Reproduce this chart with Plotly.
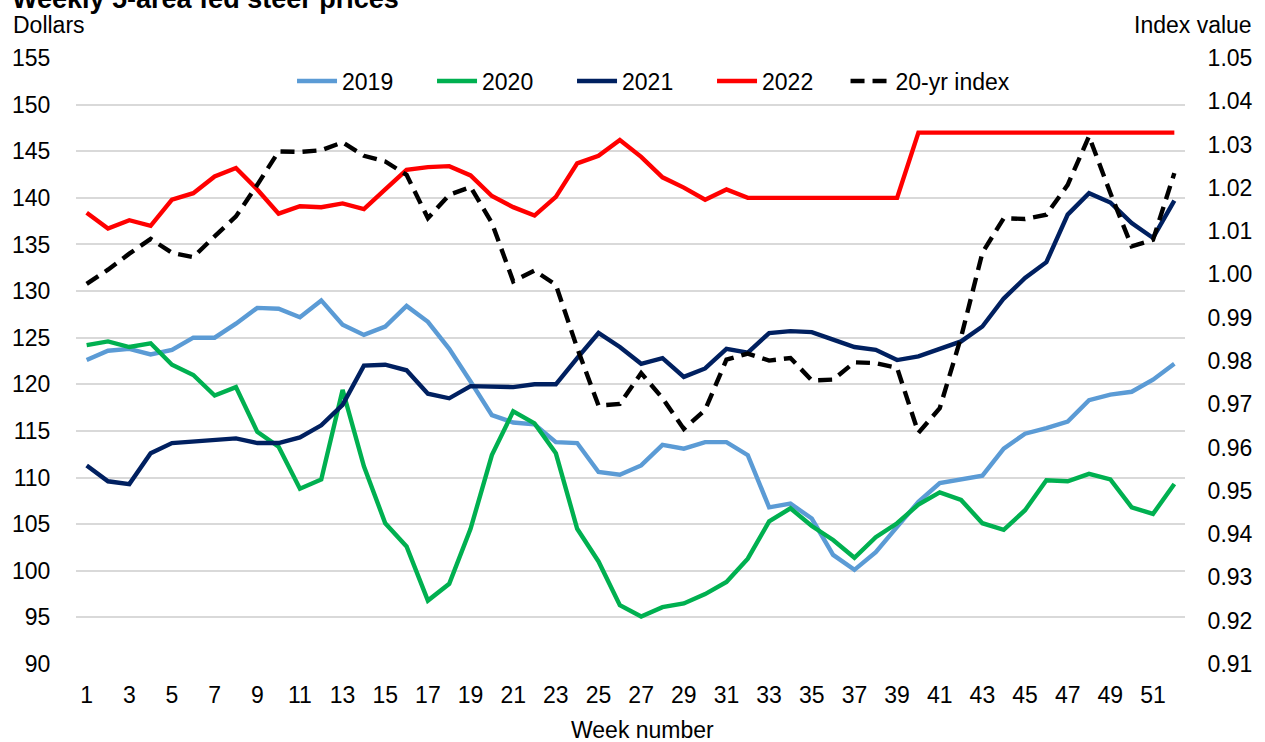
import plotly.graph_objects as go

weeks = list(range(1, 53))
tick_weeks = list(range(1, 52, 2))

p2019 = [122.6, 123.6, 123.8, 123.2, 123.7, 125.0, 125.0, 126.5, 128.2, 128.1,
         127.2, 129.0, 126.4, 125.3, 126.2, 128.4, 126.7, 123.8, 120.3, 116.7,
         115.9, 115.7, 113.8, 113.7, 110.6, 110.3, 111.3, 113.5, 113.1, 113.8,
         113.8, 112.4, 106.8, 107.2, 105.6, 101.7, 100.1, 102.0, 104.7, 107.4,
         109.4, 109.8, 110.2, 113.1, 114.7, 115.3, 116.0, 118.3, 118.9, 119.2,
         120.5, 122.2]
p2020 = [124.2, 124.6, 124.0, 124.4, 122.1, 121.0, 118.8, 119.7, 114.9, 113.3,
         108.8, 109.8, 119.4, 111.2, 105.1, 102.6, 96.8, 98.6, 104.5, 112.4,
         117.1, 115.8, 112.6, 104.5, 101.0, 96.3, 95.1, 96.1, 96.5, 97.5,
         98.8, 101.3, 105.3, 106.7, 104.8, 103.3, 101.4, 103.6, 105.1, 107.1,
         108.4, 107.6, 105.1, 104.4, 106.5, 109.7, 109.6, 110.4, 109.8, 106.8,
         106.1, 109.3]
p2021 = [111.3, 109.6, 109.3, 112.6, 113.7, 113.9, 114.1, 114.2, 113.7, 113.7,
         114.3, 115.6, 117.8, 122.0, 122.1, 121.5, 119.0, 118.5, 119.8, 119.7,
         119.7, 120.0, 120.0, 122.8, 125.5, 124.0, 122.2, 122.8, 120.8, 121.7,
         123.8, 123.4, 125.5, 125.7, 125.6, 124.8, 124.0, 123.7, 122.6, 123.0,
         123.8, 124.6, 126.2, 129.2, 131.4, 133.1, 138.2, 140.5, 139.5, 137.3,
         135.7, 139.7]
p2022 = [138.4, 136.7, 137.6, 137.0, 139.8, 140.5, 142.3, 143.2, 140.9, 138.3,
         139.1, 139.0, 139.4, 138.8, 140.9, 143.0, 143.3, 143.4, 142.4, 140.2,
         139.0, 138.1, 140.1, 143.7, 144.5, 146.2, 144.4, 142.2, 141.1, 139.8,
         140.9, 140.0, 140.0, 140.0, 140.0, 140.0, 140.0, 140.0, 140.0, 147.0,
         147.0, 147.0, 147.0, 147.0, 147.0, 147.0, 147.0, 147.0, 147.0, 147.0,
         147.0, 147.0]
index20 = [0.9978, 1.0011, 1.0048, 1.0082, 1.0050, 1.0040, 1.0088, 1.0134, 1.0207, 1.0284,
           1.0283, 1.0287, 1.0305, 1.0274, 1.0261, 1.0230, 1.0130, 1.0184, 1.0202, 1.0119,
           0.9984, 1.0009, 0.9976, 0.9830, 0.9697, 0.9701, 0.9772, 0.9714, 0.9643, 0.9687,
           0.9803, 0.9817, 0.9801, 0.9807, 0.9755, 0.9757, 0.9797, 0.9795, 0.9784, 0.9634,
           0.9691, 0.9855, 1.0050, 1.0130, 1.0128, 1.0138, 1.0207, 1.0319, 1.0188, 1.0065,
           1.0080, 1.0234]

FONT = "Liberation Sans, Arial, sans-serif"
FS = 23

fig = go.Figure()
series = [("2019", p2019, "#5B9BD5"), ("2020", p2020, "#00B050"),
          ("2021", p2021, "#002060"), ("2022", p2022, "#FF0000")]
for name, vals, col in series:
    fig.add_trace(go.Scatter(x=weeks, y=vals, name=name, mode="lines", legend="legend",
                             line=dict(color=col, width=4.4)))
fig.add_trace(go.Scatter(x=weeks, y=index20, name="20-yr index", mode="lines",
                         yaxis="y2", legend="legend2",
                         line=dict(color="black", width=4.4, dash="14px,8px")))

W, H = 1265, 742
L, R, T, B = 76, 1190, 58, 664

def px(xp):
    return (xp - L) / (R - L)

def py(yp):
    return (B - yp) / (B - T)

legend_common = dict(orientation="h", yanchor="middle", y=py(81), xanchor="left",
                     font=dict(family=FONT, size=FS), bgcolor="rgba(0,0,0,0)",
                     itemwidth=40, tracegroupgap=0)

fig.update_layout(
    width=W, height=H,
    margin=dict(l=L, r=W - R, t=T, b=H - B, pad=0),
    paper_bgcolor="white", plot_bgcolor="white",
    font=dict(family=FONT, size=FS, color="black"),
    showlegend=True,
    legend=dict(x=px(293), entrywidth=85, entrywidthmode="pixels", **legend_common),
    legend2=dict(x=px(849), **legend_common),
    xaxis=dict(range=[0.5, 52.5], tickmode="array", tickvals=tick_weeks,
               ticktext=[str(t) for t in tick_weeks], showgrid=False, zeroline=False,
               showline=False, ticks="outside", ticklen=10, tickcolor="rgba(0,0,0,0)",
               tickfont=dict(family=FONT, size=FS)),
    yaxis=dict(range=[90, 155], dtick=5, tick0=90, showgrid=True, gridcolor="#D9D9D9",
               gridwidth=1.5, zeroline=False, showline=False, ticks="outside",
               ticklen=20, tickcolor="rgba(0,0,0,0)", tickfont=dict(family=FONT, size=FS)),
    yaxis2=dict(range=[0.91, 1.05], dtick=0.01, tick0=0.91, tickformat=".2f",
                overlaying="y", side="right", showgrid=False, zeroline=False,
                showline=False, ticks="outside", ticklen=17, tickcolor="rgba(0,0,0,0)",
                tickfont=dict(family=FONT, size=FS)),
    annotations=[
        dict(text="<b>Weekly 5-area fed steer prices</b>", xref="paper", yref="paper",
             x=px(10), y=py(-1), xanchor="left", yanchor="middle", showarrow=False,
             font=dict(family=FONT, size=27)),
        dict(text="Dollars", xref="paper", yref="paper", x=px(11), y=py(25),
             xanchor="left", yanchor="middle", showarrow=False, font=dict(family=FONT, size=FS)),
        dict(text="Index value", xref="paper", yref="paper", x=px(1259), y=py(25),
             xanchor="right", yanchor="middle", showarrow=False, font=dict(family=FONT, size=FS)),
        dict(text="Week number", xref="paper", yref="paper", x=px(645), y=py(730),
             xanchor="center", yanchor="middle", showarrow=False, font=dict(family=FONT, size=FS)),
    ],
)

fig.write_html("out.html", config={"displayModeBar": False},
               post_script="document.body.style.margin='0px';")
